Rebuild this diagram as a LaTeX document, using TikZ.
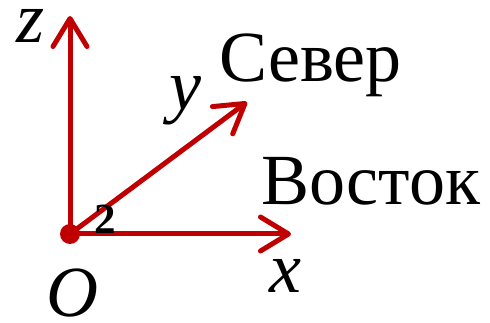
\documentclass[tikz,border=0pt]{standalone}
\usepackage{fontspec}
\setmainfont{Liberation Serif}[BoldFont={* Bold},ItalicFont={* Italic},BoldItalicFont={* Bold Italic}]
\usetikzlibrary{arrows.meta}
\definecolor{axred}{RGB}{192,0,0}
\begin{document}
\begin{tikzpicture}[x=1pt,y=-1pt,
  axis/.style={draw=axred,line width=5pt,line cap=round,
    -{Straight Barb[length=28pt,width=34pt,round]}},
  lbl/.style={inner sep=0pt,font=\fontsize{72}{80}\selectfont},
  num/.style={inner sep=0pt,font=\fontsize{43}{50}\selectfont\bfseries}]
\useasboundingbox (0,0) rectangle (490,323);
\node[circle,fill=axred,minimum size=20pt,inner sep=0pt] (O) at (70,234) {};
\coordinate (zt) at (70,16);
\coordinate (xt) at (291,234);
\coordinate (yt) at (247,102);
\draw[axis] (O.center) -- (zt);
\draw[axis] (O.center) -- (xt);
\draw[axis] (O.center) -- (yt);
\node[lbl,anchor=base,text height=0.46em,text depth=0pt] (zl) at (31,43) {\itshape z};
\node[lbl,anchor=base] (yl) at (185,110) {\itshape y};
\node[lbl,anchor=base] (xl) at (285,292) {\itshape x};
\node[lbl,anchor=base,text height=0.68em,text depth=0pt] (ol) at (72,316) {\itshape O};
\node[num,anchor=base] (two) at (105,234) {2};
\node[lbl,anchor=base west] (sev) at (219,82) {Север};
\node[lbl,anchor=base west] (vos) at (261,205) {Восток};
\end{tikzpicture}
\end{document}
